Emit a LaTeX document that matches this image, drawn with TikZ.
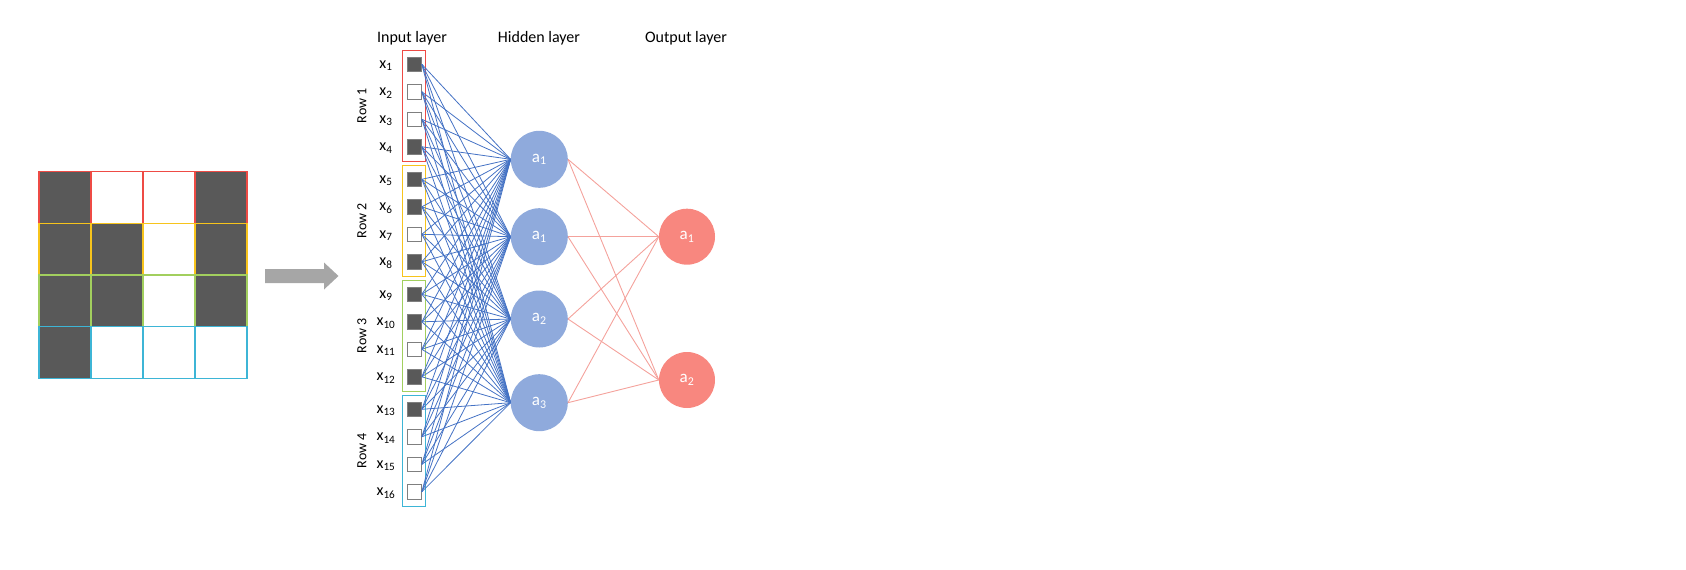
\documentclass[tikz,border=0pt]{standalone}
\usepackage{fontspec}
\setmainfont{Carlito}
\definecolor{dkgray}{HTML}{595959}
\definecolor{sqgray}{HTML}{7F7F7F}
\definecolor{hidblue}{HTML}{8FAADC}
\definecolor{outred}{HTML}{F8877F}
\definecolor{lineblue}{HTML}{4472C4}
\definecolor{linered}{HTML}{F4A29C}
\definecolor{rowred}{HTML}{EE4B45}
\definecolor{rowyellow}{HTML}{F7C41C}
\definecolor{rowgreen}{HTML}{A2CF5E}
\definecolor{rowcyan}{HTML}{3DB5D6}
\definecolor{arrowgray}{HTML}{A6A6A6}
\begin{document}
\begin{tikzpicture}[x=1pt,y=-1pt,
  sq/.style={draw=sqgray,line width=0.8pt,minimum size=14.5pt,inner sep=0pt},
  dk/.style={sq,fill=dkgray},
  wh/.style={sq,fill=white},
  hid/.style={circle,fill=hidblue,minimum size=57pt,inner sep=0pt,text=white,font=\fontsize{17}{20}\selectfont},
  outn/.style={circle,fill=outred,minimum size=56pt,inner sep=0pt,text=white,font=\fontsize{17}{20}\selectfont},
  lbl/.style={font=\fontsize{16}{19}\selectfont,inner sep=0pt},
  ttl/.style={font=\fontsize{16}{19}\selectfont,inner sep=0pt},
  rowl/.style={rotate=90,font=\fontsize{14}{16}\selectfont,inner sep=0pt},
  grp/.style={line width=1.3pt},
  cell/.style={line width=1.3pt},
  bl/.style={draw=lineblue,line width=0.8pt},
  rl/.style={draw=linered,line width=0.9pt}]
\useasboundingbox (0,0) rectangle (1686,570);

% ---- grid ----
\foreach \r/\col/\pat in {0/rowred/{1,0,0,1},1/rowyellow/{1,1,0,1},2/rowgreen/{1,1,0,1},3/rowcyan/{1,0,0,0}}{
  \foreach \v [count=\c from 0] in \pat {
    \pgfmathsetmacro{\xa}{39+52*\c}
    \pgfmathsetmacro{\ya}{171.7+51.65*\r}
    \ifnum\v=1
      \filldraw[cell,draw=\col,fill=dkgray] (\xa,\ya) rectangle ++(52,51.65);
    \else
      \filldraw[cell,draw=\col,fill=white] (\xa,\ya) rectangle ++(52,51.65);
    \fi
  }
}

% ---- arrow ----
\fill[arrowgray] (265,269) -- (324,269) -- (324,262.5) -- (338.5,276) -- (324,289.5) -- (324,283) -- (265,283) -- cycle;

% ---- titles ----
\node[ttl] (tin) at (412,38) {Input layer};
\node[ttl] (thid) at (539,38) {Hidden layer};
\node[ttl] (tout) at (686,38) {Output layer};

% ---- group boxes ----
\foreach \g/\col in {0/rowred,1/rowyellow,2/rowgreen,3/rowcyan}{
  \pgfmathsetmacro{\yt}{64.3+115*\g-13.6}
  \pgfmathsetmacro{\yb}{64.3+115*\g+82.5+15}
  \draw[grp,draw=\col] (402.5,\yt) rectangle (425.5,\yb);
}

% ---- row labels ----
\foreach \g in {0,1,2,3}{
  \pgfmathsetmacro{\ym}{64.3+115*\g+41.25}
  \pgfmathtruncatemacro{\gn}{\g+1}
  \node[rowl] (row\gn) at (362,\ym) {Row \gn};
}

% ---- input squares and labels ----
\foreach \i/\t in {1/dk,2/wh,3/wh,4/dk,5/dk,6/dk,7/wh,8/dk,9/dk,10/dk,11/wh,12/dk,13/dk,14/wh,15/wh,16/wh}{
  \pgfmathtruncatemacro{\g}{(\i-1)/4}
  \pgfmathtruncatemacro{\j}{mod(\i-1,4)}
  \pgfmathsetmacro{\y}{64.3+115*\g+27.5*\j}
  \node[\t] (s\i) at (414.2,\y) {};
  \node[lbl] (x\i) at (386,\y+1.5) {x\textsubscript{\i}};
}

% ---- hidden and output nodes ----
\node[hid] (h1) at (539.3,159.3) {a\textsubscript{1}};
\node[hid] (h2) at (539.3,236.7) {a\textsubscript{1}};
\node[hid] (h3) at (539.3,319.0) {a\textsubscript{2}};
\node[hid] (h4) at (539.3,402.7) {a\textsubscript{3}};
\node[outn] (o1) at (687,236.7) {a\textsubscript{1}};
\node[outn] (o2) at (687,380) {a\textsubscript{2}};

% ---- connectors ----
\foreach \i in {1,...,16}{
  \foreach \j in {1,...,4}{
    \draw[bl] (s\i.east) -- (h\j.west);
  }
}
\foreach \j in {1,...,4}{
  \foreach \k in {1,2}{
    \draw[rl] (h\j.east) -- (o\k.west);
  }
}
\end{tikzpicture}
\end{document}
